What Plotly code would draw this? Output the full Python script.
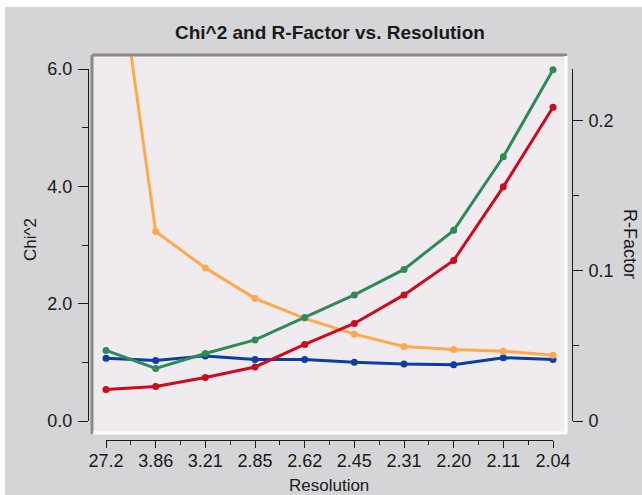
import plotly.graph_objects as go

# Resolution shells (Angstrom), low to high resolution
resolution = ["27.2", "3.86", "3.21", "2.85", "2.62", "2.45", "2.31", "2.20", "2.11", "2.04"]

# Chi^2 per shell (left axis)
chi2_a = [9.32, 3.23, 2.61, 2.09, 1.75, 1.48, 1.27, 1.22, 1.19, 1.12]
chi2_b = [1.07, 1.03, 1.11, 1.05, 1.05, 1.00, 0.97, 0.96, 1.08, 1.05]

# R-factor per shell (right axis)
rfac_a = [0.047, 0.035, 0.045, 0.054, 0.069, 0.084, 0.101, 0.127, 0.176, 0.234]
rfac_b = [0.021, 0.023, 0.029, 0.036, 0.051, 0.065, 0.084, 0.107, 0.156, 0.209]

W, H = 642, 495
PANEL = "#d5d4d7"
PLOT_BG = "#efebef"
INK = "#1a1a1a"
FONT = "Liberation Sans"


def fx(px):
    return px / W


def fy(py):
    return 1 - py / H


# frame (plot area) and detached axis geometry, in pixels
FL, FR, FT, FB = 93, 566, 55, 433
X0, X1 = 106, 553          # first / last category
Y0, YTOP = 421, 69         # value 0 / top of value axes
CHI_MAX = 6.0
R_MAX = 0.2345

n = len(resolution)
step = (X1 - X0) / (n - 1)
xr = [-(X0 - FL) / step, (n - 1) + (FR - X1) / step]
ppu_l = (Y0 - YTOP) / CHI_MAX
ppu_r = (Y0 - YTOP) / R_MAX
yr_l = [-(FB - Y0) / ppu_l, (Y0 - FT) / ppu_l]
yr_r = [-(FB - Y0) / ppu_r, (Y0 - FT) / ppu_r]

ORANGE = "#ffa94d"
BLUE = "#0a3ea6"
GREEN = "#2e8b57"
RED = "#cf0a1e"

fig = go.Figure()


def series(y, color, yaxis):
    return go.Scatter(
        x=resolution, y=y, mode="lines+markers", yaxis=yaxis, xaxis="x",
        line=dict(color=color, width=3), marker=dict(color=color, size=7),
        showlegend=False, hoverinfo="x+y",
    )


fig.add_trace(series(rfac_a, GREEN, "y2"))
fig.add_trace(series(chi2_b, BLUE, "y"))
fig.add_trace(series(chi2_a, ORANGE, "y"))
fig.add_trace(series(rfac_b, RED, "y2"))

# empty traces so the detached display axes get their subplots
fig.add_trace(go.Scatter(x=[], y=[], xaxis="x2", yaxis="y3", showlegend=False, hoverinfo="skip"))
fig.add_trace(go.Scatter(x=[], y=[], xaxis="x2", yaxis="y4", showlegend=False, hoverinfo="skip"))

tickfont = dict(family=FONT, size=18, color=INK)
hidden = dict(showline=False, showgrid=False, zeroline=False, ticks="", showticklabels=False)

fig.update_layout(
    width=W, height=H,
    margin=dict(l=0, r=0, t=0, b=0, pad=0, autoexpand=False),
    paper_bgcolor=PANEL, plot_bgcolor="rgba(0,0,0,0)",
    font=dict(family=FONT, color=INK),
    xaxis=dict(domain=[fx(FL), fx(FR)], range=xr, type="category",
               categoryorder="array", categoryarray=resolution, **hidden),
    yaxis=dict(domain=[fy(FB), fy(FT)], range=yr_l, **hidden),
    yaxis2=dict(overlaying="y", range=yr_r, side="right", **hidden),
    xaxis2=dict(
        domain=[fx(X0), fx(X1)], range=[0, n - 1], anchor="free", position=fy(440),
        showline=True, linecolor=INK, linewidth=1, showgrid=False, zeroline=False,
        ticks="outside", ticklen=7, tickwidth=1, tickcolor=INK,
        tickmode="array", tickvals=list(range(n)), ticktext=resolution,
        minor=dict(ticks="outside", ticklen=4, tickwidth=1, tickcolor=INK,
                   tickmode="array", tickvals=[i + 0.5 for i in range(n - 1)]),
        tickfont=tickfont, ticklabelstandoff=-3,
    ),
    yaxis3=dict(
        domain=[fy(Y0), fy(YTOP)], range=[0, CHI_MAX], anchor="free", position=fx(88),
        side="left", showline=True, linecolor=INK, linewidth=1, showgrid=False, zeroline=False,
        ticks="outside", ticklen=10, tickwidth=1, tickcolor=INK,
        tickmode="array", tickvals=[0, 2, 4, 6], tickformat=".1f",
        minor=dict(ticks="outside", ticklen=6, tickwidth=1, tickcolor=INK,
                   tickmode="array", tickvals=[1, 3, 5]),
        tickfont=tickfont, ticklabelstandoff=2,
    ),
    yaxis4=dict(
        domain=[fy(Y0), fy(YTOP)], range=[0, R_MAX], anchor="free", position=fx(572),
        side="right", showline=True, linecolor=INK, linewidth=1, showgrid=False, zeroline=False,
        ticks="outside", ticklen=10, tickwidth=1, tickcolor=INK,
        tickmode="array", tickvals=[0, 0.1, 0.2], ticktext=["0", "0.1", "0.2"],
        minor=dict(ticks="outside", ticklen=6, tickwidth=1, tickcolor=INK,
                   tickmode="array", tickvals=[0.05, 0.15]),
        tickfont=tickfont, ticklabelstandoff=2,
    ),
)

shapes = [
    # white border along the top and left of the window
    dict(type="rect", xref="paper", yref="paper", x0=0, x1=1, y0=fy(7), y1=1,
         fillcolor="white", line_width=0, layer="below"),
    dict(type="rect", xref="paper", yref="paper", x0=0, x1=fx(5), y0=0, y1=1,
         fillcolor="white", line_width=0, layer="below"),
    # plotting area background
    dict(type="rect", xref="paper", yref="paper", x0=fx(FL), x1=fx(FR), y0=fy(FB), y1=fy(FT),
         fillcolor=PLOT_BG, line_width=0, layer="below"),
    # sunken bevel around the plotting area
    dict(type="line", xref="paper", yref="paper", x0=fx(FL - 1), x1=fx(FR + 1), y0=fy(FT), y1=fy(FT),
         line=dict(color="#8a8a8a", width=3), layer="above"),
    dict(type="line", xref="paper", yref="paper", x0=fx(FL - 1), x1=fx(FL - 1), y0=fy(FT), y1=fy(FB + 1),
         line=dict(color="#8a8a8a", width=3), layer="above"),
    dict(type="line", xref="paper", yref="paper", x0=fx(FL), x1=fx(FR + 1), y0=fy(FB), y1=fy(FB),
         line=dict(color="#ffffff", width=3), layer="above"),
    dict(type="line", xref="paper", yref="paper", x0=fx(FR), x1=fx(FR), y0=fy(FT + 1), y1=fy(FB),
         line=dict(color="#ffffff", width=3), layer="above"),
]

annotations = [
    dict(text="<b>Chi^2 and R-Factor vs. Resolution</b>", x=fx(329.5), y=fy(33),
         font=dict(family=FONT, size=19, color=INK)),
    dict(text="Chi^2", x=fx(30), y=fy(240), textangle=-90,
         font=dict(family=FONT, size=17, color=INK)),
    dict(text="R-Factor", x=fx(629.5), y=fy(243.5), textangle=90,
         font=dict(family=FONT, size=18, color=INK)),
    dict(text="Resolution", x=fx(329), y=fy(485), borderpad=0,
         font=dict(family=FONT, size=17, color=INK)),
]
for a in annotations:
    a.update(xref="paper", yref="paper", showarrow=False, xanchor="center", yanchor="middle")

fig.update_layout(shapes=shapes, annotations=annotations)

fig.write_html("out.html")
